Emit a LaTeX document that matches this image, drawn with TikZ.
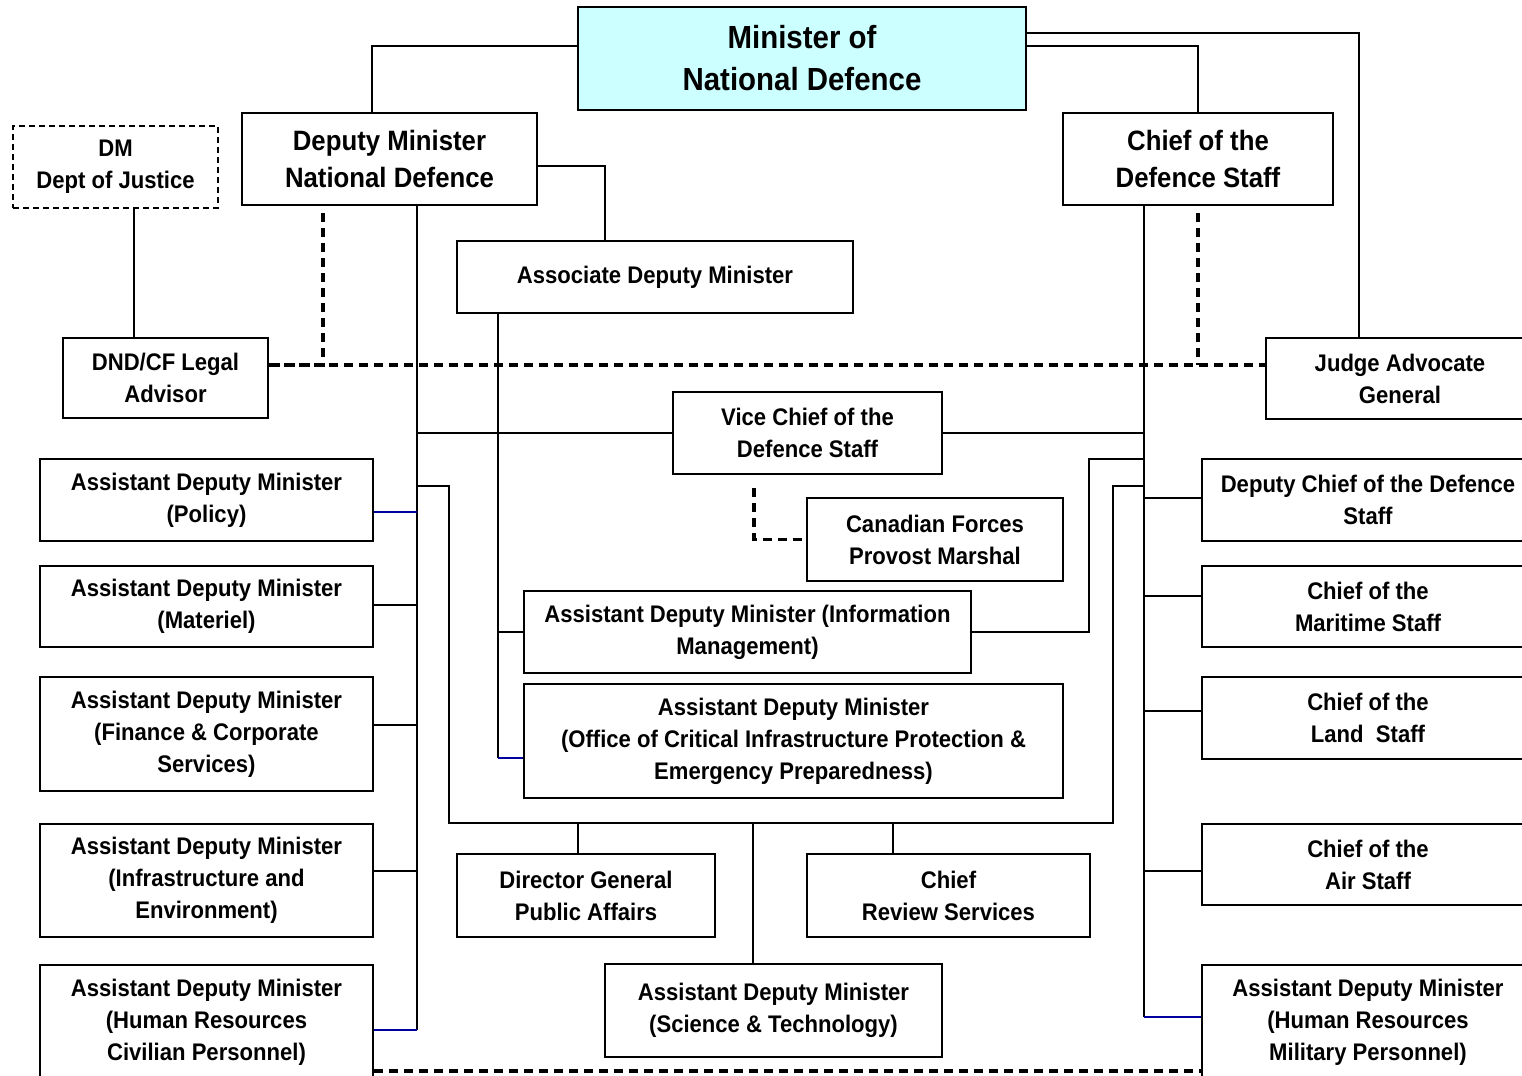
\documentclass[tikz,border=0pt]{standalone}
\usepackage{fontspec}
\setmainfont{Liberation Sans}[FakeStretch=0.92]
\usetikzlibrary{positioning}
\definecolor{mndcyan}{RGB}{204,255,255}
\definecolor{linkblue}{RGB}{0,0,160}

\begin{document}
\begin{tikzpicture}[
  x=0.5pt, y=-0.5pt,
  box/.style={rectangle, draw, line width=1pt, align=center, inner sep=2pt,
              font=\fontsize{12}{16}\selectfont\bfseries},
  bigbox/.style={box, font=\fontsize{14}{18.5}\selectfont\bfseries},
  topbox/.style={box, fill=mndcyan, font=\fontsize{16}{21}\selectfont\bfseries},
  col/.style={box, minimum width=166.5pt},
  link/.style={draw, line width=1pt},
  dotlink/.style={draw, line width=1.6pt, dash pattern=on 4.5pt off 3pt},
  bluelink/.style={draw, line width=1pt, linkblue}
]
\useasboundingbox (0,0) rectangle (1522,1076);
\clip (0,0) rectangle (1522,1076);

\node[topbox, minimum width=224pt, minimum height=51.5pt] (mnd) at (802,58.5)
  {Minister of\\National Defence};
\node[bigbox, minimum width=147.5pt, minimum height=46pt] (dm) at (389.5,159)
  {Deputy Minister\\National Defence};
\node[bigbox, minimum width=135pt, minimum height=46pt] (cds) at (1198,159)
  {Chief of the\\Defence Staff};
\node[box, dash pattern=on 3pt off 2pt, minimum width=102.5pt, minimum height=41pt]
  (dmj) at (115.5,167) {DM\\Dept of Justice};
\node[box, minimum width=198pt, minimum height=36pt] (adm) at (655,277)
  {Associate Deputy Minister};
\node[box, minimum width=102.5pt, minimum height=40pt] (legal) at (165.5,378)
  {DND/CF Legal\\Advisor};
\node[box, minimum width=134pt, minimum height=40.5pt] (jag) at (1400,378.5)
  {Judge Advocate\\General};
\node[box, minimum width=134.5pt, minimum height=41pt] (vcds) at (807.5,433)
  {Vice Chief of the\\Defence Staff};
\node[box, minimum width=128pt, minimum height=41.5pt] (cfpm) at (935,539.5)
  {Canadian Forces\\Provost Marshal};
\node[box, minimum width=223.5pt, minimum height=41pt] (im) at (747.5,632)
  {Assistant Deputy Minister (Information\\Management)};
\node[box, minimum width=269.5pt, minimum height=57pt] (ocip) at (793.5,741)
  {Assistant Deputy Minister\\(Office of Critical Infrastructure Protection \&\\Emergency Preparedness)};
\node[box, minimum width=129pt, minimum height=41.5pt] (dgpa) at (586,895.5)
  {Director General\\Public Affairs};
\node[box, minimum width=141.5pt, minimum height=41.5pt] (crs) at (948.5,895.5)
  {Chief\\Review Services};
\node[box, minimum width=168.5pt, minimum height=46.5pt] (st) at (773.5,1010.5)
  {Assistant Deputy Minister\\(Science \& Technology)};

% civilian side
\node[col, minimum height=41pt] (pol) at (206.5,500) {Assistant Deputy Minister\\(Policy)};
\node[col, minimum height=40.5pt, below=11.5pt of pol] (mat) {Assistant Deputy Minister\\(Materiel)};
\node[col, minimum height=57pt, below=14pt of mat] (fin) {Assistant Deputy Minister\\(Finance \& Corporate\\Services)};
\node[col, minimum height=56.5pt, below=15.5pt of fin] (ie) {Assistant Deputy Minister\\(Infrastructure and\\Environment)};
\node[col, minimum height=57pt, below=13pt of ie] (hrc) {Assistant Deputy Minister\\(Human Resources\\Civilian Personnel)};

% military side
\node[col, minimum height=41pt] (dcds) at (1368,500) {Deputy Chief of the Defence\\Staff};
\node[col, minimum height=40.5pt, below=11.5pt of dcds] (cms) {Chief of the\\Maritime Staff};
\node[col, minimum height=41pt, below=14pt of cms] (cls) {Chief of the\\Land\ \ Staff};
\node[col, minimum height=40.5pt, below=31.5pt of cls] (cas) {Chief of the\\Air Staff};
\node[col, minimum height=57pt, below=29pt of cas] (hrm) {Assistant Deputy Minister\\(Human Resources\\Military Personnel)};

\coordinate (dmtr) at (417,1030);
\coordinate (cdstr) at (1144,1017);
\coordinate (adtr) at (498,758);
\coordinate (lpl) at (449,823);
\coordinate (lpr) at (1113,823);

\draw[link] (mnd.west |- 0,46) -| (dm.north -| 372,0);
\draw[link] (mnd.east |- 0,33) -| (jag.north -| 1359,0);
\draw[link] (mnd.east |- 0,46) -| (cds.north);
\draw[link] (dm.east |- 0,166) -| (adm.north -| 605,0);
\draw[link] (dmj.south -| 134,0) -- (legal.north -| 134,0);
\draw[dotlink] ([yshift=-3.5pt]dm.south -| 323,0) |- (legal.east |- 0,365);
\draw[dotlink] (legal.east |- 0,365) -- (jag.west |- 0,365);
\draw[dotlink] ([yshift=-3.5pt]cds.south) -- (cds.south |- 0,365);

\draw[link] (dm.south -| dmtr) -- (dmtr);
\draw[link] (cds.south -| cdstr) -- (cdstr);
\draw[link] (adm.south -| adtr) -- (adtr);
\draw[bluelink] (hrc.east |- dmtr) -- (dmtr);
\draw[bluelink] (hrm.west |- cdstr) -- (cdstr);
\draw[bluelink] (ocip.west |- adtr) -- (adtr);
\draw[bluelink] (pol.east |- 0,512) -- (dmtr |- 0,512);
\draw[link] (mat.east |- 0,605) -- (dmtr |- 0,605);
\draw[link] (fin.east |- 0,725) -- (dmtr |- 0,725);
\draw[link] (ie.east |- 0,871) -- (dmtr |- 0,871);
\draw[link] (dcds.west |- 0,498) -- (cdstr |- 0,498);
\draw[link] (cms.west |- 0,596) -- (cdstr |- 0,596);
\draw[link] (cls.west |- 0,711) -- (cdstr |- 0,711);
\draw[link] (cas.west |- 0,871) -- (cdstr |- 0,871);

\draw[link] (vcds.west -| dmtr) -- (vcds.west);
\draw[link] (vcds.east) -- (vcds.east -| cdstr);
\draw[link] (im.west -| adtr) -- (im.west);
\draw[link] (im.east) -- (im.east -| 1089,0) |- (cdstr |- 0,459);
\draw[link] (dmtr |- 0,486) -| (lpl) -- (lpr) |- (cdstr |- 0,486);
\draw[link] (dgpa.north -| 578,0) -- (lpl -| 578,0);
\draw[link] (st.north -| 753,0) -- (lpl -| 753,0);
\draw[link] (crs.north -| 893,0) -- (lpl -| 893,0);
\draw[dotlink] ([yshift=-6.5pt]vcds.south -| 754,0) |- (cfpm.west);
\draw[dotlink] (hrc.east |- 0,1071) -- (hrm.west |- 0,1071);
\end{tikzpicture}
\end{document}
